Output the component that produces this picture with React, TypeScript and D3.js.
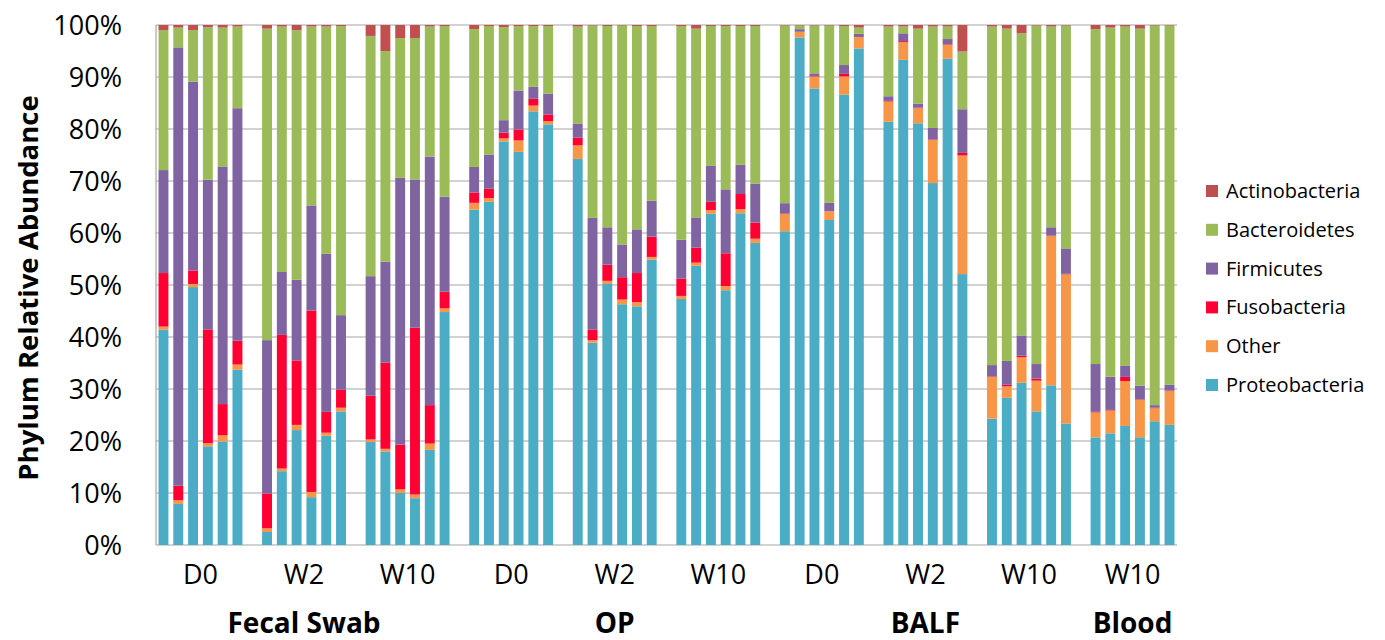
import React from "react";
import * as d3 from "d3";

const width = 1385;
const height = 640;

const phyla = ["Proteobacteria", "Other", "Fusobacteria", "Firmicutes", "Bacteroidetes", "Actinobacteria"];
const legendOrder = ["Actinobacteria", "Bacteroidetes", "Firmicutes", "Fusobacteria", "Other", "Proteobacteria"];
const colors = {
  Actinobacteria: "#C0504D",
  Bacteroidetes: "#9BBB59",
  Firmicutes: "#8064A2",
  Fusobacteria: "#FF0033",
  Other: "#F79646",
  Proteobacteria: "#4BACC6",
};

// 10 groups of 6 samples
const timepoints = ["D0", "W2", "W10", "D0", "W2", "W10", "D0", "W2", "W10", "W10"];
const sampleTypes = ["Fecal Swab", "OP", "BALF", "Blood"];
const sampleTypeGroup = [1, 4, 7, 9]; // which group each bold label sits under
const perGroup = 6;

// values in %, group by group (FS D0, FS W2, FS W10, OP D0, OP W2, OP W10, BALF D0, BALF W2, BALF W10, Blood W10)
const proteobacteria = [
  41.4, 7.9, 49.6, 19.0, 19.9, 33.7,
  2.5, 14.2, 22.1, 9.2, 21.0, 25.7,
  19.8, 18.0, 10.0, 9.0, 18.3, 44.8,
  64.5, 66.0, 77.6, 75.6, 83.4, 80.9,
  74.1, 38.9, 50.2, 46.3, 45.9, 54.9,
  47.3, 53.7, 63.7, 49.0, 63.8, 58.1,
  60.4, 97.6, 87.8, 62.5, 86.6, 95.5,
  81.4, 93.3, 81.1, 69.6, 93.5, 52.1,
  24.3, 28.3, 31.2, 25.7, 30.7, 23.4,
  20.7, 21.5, 22.8, 20.7, 23.8, 23.1,
];
const other = [
  0.6, 0.7, 0.6, 0.6, 1.2, 1.0,
  0.7, 0.5, 1.0, 1.0, 0.6, 0.7,
  0.5, 0.5, 0.7, 0.7, 1.2, 0.7,
  1.3, 0.7, 0.6, 2.2, 1.1, 0.6,
  2.6, 0.5, 0.6, 0.9, 0.8, 0.5,
  0.6, 0.6, 0.7, 0.8, 0.8, 0.8,
  3.3, 1.1, 2.3, 1.7, 3.5, 2.2,
  3.9, 3.4, 2.9, 8.3, 2.7, 22.8,
  8.0, 2.2, 4.9, 5.9, 28.7, 28.7,
  4.8, 4.4, 8.6, 7.2, 2.5, 6.5,
];
const fusobacteria = [
  10.3, 2.8, 2.6, 21.9, 6.0, 4.6,
  6.7, 25.7, 12.4, 34.9, 4.0, 3.5,
  8.4, 16.6, 8.6, 32.1, 7.4, 3.2,
  2.0, 1.8, 1.1, 2.1, 1.3, 1.3,
  1.5, 2.0, 3.1, 4.3, 5.6, 3.9,
  3.3, 2.9, 1.6, 6.3, 2.9, 3.1,
  0.1, 0, 0.1, 0, 0.5, 0,
  0.1, 0.2, 0.1, 0.1, 0.1, 0.5,
  0.1, 0.3, 0.3, 0.4, 0.1, 0.1,
  0.1, 0.1, 0.8, 0.1, 0.1, 0.1,
];
const firmicutes = [
  19.8, 84.3, 36.3, 28.8, 45.7, 44.7,
  29.5, 12.1, 15.5, 20.2, 30.4, 14.3,
  23.0, 19.4, 51.3, 28.5, 47.8, 18.3,
  4.9, 6.6, 2.4, 7.5, 2.3, 4.0,
  2.7, 21.5, 7.2, 6.3, 8.4, 6.9,
  7.5, 5.8, 6.9, 12.3, 5.6, 7.5,
  2.0, 0.5, 0.5, 1.6, 1.7, 0.6,
  0.9, 1.5, 0.8, 2.2, 1.0, 8.4,
  2.2, 4.6, 3.9, 2.8, 1.6, 4.9,
  9.2, 6.4, 2.1, 2.6, 0.5, 1.1,
];
const bacteroidetes = [
  26.9, 3.8, 9.9, 29.4, 26.7, 15.7,
  59.9, 47.2, 48.0, 34.4, 43.7, 55.6,
  46.2, 40.5, 26.9, 27.2, 25.0, 32.8,
  26.5, 24.7, 17.9, 12.4, 11.7, 13.0,
  18.6, 37.0, 38.7, 42.1, 39.1, 33.6,
  41.1, 36.3, 26.9, 31.4, 26.7, 30.3,
  34.2, 0.7, 9.2, 34.1, 7.5, 1.2,
  13.4, 1.3, 14.4, 19.5, 2.4, 11.1,
  65.1, 63.9, 58.1, 65.1, 38.6, 42.9,
  64.4, 67.2, 65.0, 68.6, 73.0, 69.1,
];
const actinobacteria = [
  1.0, 0.5, 1.0, 0.4, 0.5, 0.3,
  0.7, 0.3, 1.0, 0.3, 0.3, 0.2,
  2.1, 5.0, 2.5, 2.5, 0.3, 0.2,
  0.8, 0.2, 0.4, 0.2, 0.2, 0.2,
  0.3, 0.1, 0.2, 0.1, 0.2, 0.2,
  0.2, 0.7, 0.2, 0.2, 0.2, 0.2,
  0.1, 0.1, 0.1, 0.1, 0.2, 0.5,
  0.3, 0.3, 0.7, 0.3, 0.3, 5.1,
  0.3, 0.7, 1.6, 0.1, 0.3, 0.1,
  0.8, 0.5, 0.3, 0.7, 0.1, 0.1,
];

const yTicks = [0, 0.1, 0.2, 0.3, 0.4, 0.5, 0.6, 0.7, 0.8, 0.9, 1];

const font = "'Open Sans', Calibri, sans-serif";

export default function App() {
  const rows = proteobacteria.map((_, i) => ({
    id: "s" + i,
    Proteobacteria: proteobacteria[i],
    Other: other[i],
    Fusobacteria: fusobacteria[i],
    Firmicutes: firmicutes[i],
    Bacteroidetes: bacteroidetes[i],
    Actinobacteria: actinobacteria[i],
  }));

  // slots: 6 samples per group, one empty slot between groups
  const slots: string[] = [];
  timepoints.forEach((_, g) => {
    for (let k = 0; k < perGroup; k++) slots.push("s" + (g * perGroup + k));
    if (g < timepoints.length - 1) slots.push("gap" + g);
  });

  const x = d3.scaleBand().domain(slots).range([156, 1177]).paddingInner(0.33).paddingOuter(0.17);
  const y = d3.scaleLinear().domain([0, 1]).range([545, 25]);

  const series = d3.stack().keys(phyla).offset(d3.stackOffsetExpand)(rows as any);

  const groupCenter = (g: number) => {
    const first = x("s" + g * perGroup)!;
    const last = x("s" + (g * perGroup + perGroup - 1))!;
    return (first + last + x.bandwidth()) / 2;
  };

  return (
    <svg width={width} height={height} style={{ position: "absolute", left: 0, top: 0, background: "#fff" }} fontFamily={font}>
      {yTicks.map((t) => (
        <g key={t}>
          <line x1={156} x2={1177} y1={y(t)} y2={y(t)} stroke="#A6A6A6" strokeWidth={1.2} />
          <text x={122} y={y(t) + 10} textAnchor="end" fontSize={27} fill="#000">
            {d3.format(".0%")(t)}
          </text>
        </g>
      ))}
      <line x1={156} x2={156} y1={y(0)} y2={y(1)} stroke="#A6A6A6" strokeWidth={1.2} />

      {series.map((s) => (
        <g key={s.key} fill={(colors as any)[s.key]}>
          {s.map((d: any) => (
            <rect key={d.data.id} x={x(d.data.id)} width={x.bandwidth()} y={y(d[1])} height={Math.max(0, y(d[0]) - y(d[1]))} />
          ))}
        </g>
      ))}

      {timepoints.map((t, g) => (
        <text key={g} x={groupCenter(g)} y={584} textAnchor="middle" fontSize={27} fill="#000">
          {t}
        </text>
      ))}
      {sampleTypes.map((s, i) => (
        <text key={s} x={groupCenter(sampleTypeGroup[i])} y={633} textAnchor="middle" fontSize={28} fontWeight="bold" fill="#000">
          {s}
        </text>
      ))}

      <text transform="translate(38,288) rotate(-90)" textAnchor="middle" fontSize={27.5} fontWeight="bold" fill="#000">
        Phylum Relative Abundance
      </text>

      {legendOrder.map((k, i) => (
        <g key={k} transform={`translate(1206,${191 + i * 38.8})`}>
          <rect x={0} y={-6} width={12} height={12} fill={(colors as any)[k]} />
          <text x={20} y={7} fontSize={20} fill="#000">
            {k}
          </text>
        </g>
      ))}
    </svg>
  );
}
